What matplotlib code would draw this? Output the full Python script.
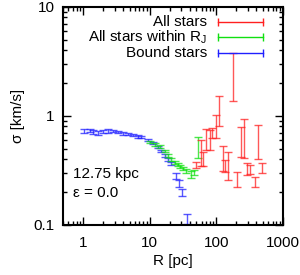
import matplotlib
matplotlib.use('Agg')
import matplotlib.pyplot as plt
from matplotlib.ticker import NullFormatter, LogLocator

plt.rcParams['font.family'] = ['Liberation Sans', 'DejaVu Sans']

# Bound stars (blue)
r_bound = [1.03, 1.27, 1.42, 1.69, 2.01, 2.39, 2.83, 3.36, 4.0, 4.74, 5.63, 6.68,
           7.52, 9.34, 11.1, 13.2, 14.9, 16.7, 18.6, 21.1, 25.0, 28.0, 30.8, 36.0]
s_bound = [0.726, 0.736, 0.71, 0.695, 0.721, 0.726, 0.726, 0.71, 0.695, 0.68, 0.663, 0.648,
           0.639, 0.596, 0.563, 0.517, 0.476, 0.434, 0.399, 0.364, 0.284, 0.240, 0.200, 0.115]
e_bound = [0.03, 0.025, 0.03, 0.025, 0.025, 0.025, 0.02, 0.02, 0.02, 0.015, 0.015, 0.015,
           0.015, 0.012, 0.012, 0.012, 0.012, 0.01, 0.01, 0.01, 0.018, 0.016, 0.014, 0.012]

# All stars within R_J (green)
r_within = [10.0, 11.87, 14.1, 16.7, 18.8, 21.1, 23.6, 26.2, 29.0, 32.2, 35.7, 41.9, 46.9, 52.6]
s_within = [0.577, 0.548, 0.525, 0.476, 0.434, 0.397, 0.371, 0.359, 0.344, 0.330, 0.310, 0.291, 0.303, 0.525]
e_within = [0.015, 0.015, 0.015, 0.014, 0.013, 0.012, 0.012, 0.012, 0.012, 0.013, 0.013, 0.02, 0.015, 0.11]

# All stars (red)
r_all = [50.3, 59.1, 64.0, 70.2, 79.9, 87.1, 99.0, 110.9, 124.2, 136.2,
         151.1, 179.4, 203.7, 233.7, 261.8, 293.2, 321.6, 378.0, 427.6, 490.8]
s_all = [0.352, 0.47, 0.403, 0.617, 0.61, 0.70, 0.83, 1.16, 0.42, 0.347,
         0.36, 2.55, 0.262, 0.60, 0.68, 0.326, 0.321, 0.249, 0.62, 0.332]
e_all = [0.022, 0.126, 0.059, 0.135, 0.127, 0.067, 0.2, 0.35, 0.105, 0.044,
         0.103, 1.19, 0.041, 0.184, 0.266, 0.041, 0.03, 0.024, 0.214, 0.035]

series = [('All stars', r_all, s_all, e_all, '#ff2020'),
          ('All stars within R$_\\mathregular{J}$', r_within, s_within, e_within, '#10e010'),
          ('Bound stars', r_bound, s_bound, e_bound, '#2020ff')]

fig = plt.figure(figsize=(3.0, 2.75), dpi=100)
ax = fig.add_axes([0.21, 0.182, 0.733, 0.793])

for label, r, s, e, c in series[::-1]:
    ax.errorbar(r, s, yerr=e, fmt='none', ecolor=c, elinewidth=1.0, capsize=2.8,
                capthick=1.0, alpha=0.75)

ax.set_xscale('log')
ax.set_yscale('log')
ax.set_xlim(0.5, 1000)
ax.set_ylim(0.1, 10)
ax.set_xticks([1, 10, 100, 1000])
ax.set_xticklabels(['1', '10', '100', '1000'])
ax.set_yticks([0.1, 1, 10])
ax.set_yticklabels(['0.1', '1', '10'])
ax.xaxis.set_minor_locator(LogLocator(base=10, subs=range(2, 10)))
ax.yaxis.set_minor_locator(LogLocator(base=10, subs=range(2, 10)))
ax.xaxis.set_minor_formatter(NullFormatter())
ax.yaxis.set_minor_formatter(NullFormatter())
ax.tick_params(which='both', direction='in', top=True, right=True, width=1.0)
ax.tick_params(which='major', length=6, labelsize=11)
ax.tick_params(axis='x', which='major', pad=8)
ax.tick_params(axis='y', which='major', pad=6)
ax.tick_params(which='minor', length=3)
for sp in ax.spines.values():
    sp.set_linewidth(1.5)

ax.set_xlabel('R [pc]', fontsize=11, labelpad=3)
ax.set_ylabel('σ [km/s]', fontsize=11, labelpad=6)

# gnuplot-style key
rows = [0.931, 0.861, 0.790]
for (label, r, s, e, c), yk in zip(series, rows):
    ax.text(0.655, yk, label, transform=ax.transAxes, ha='right', va='center', fontsize=11)
    ax.plot([0.705, 0.909], [yk, yk], color=c, lw=1.0, transform=ax.transAxes)
    ax.plot([0.705, 0.909], [yk, yk], color=c, lw=0, marker='|', markersize=6,
            markeredgewidth=1.0, transform=ax.transAxes)

ax.text(0.045, 0.233, '12.75 kpc', transform=ax.transAxes, ha='left', va='center', fontsize=11)
ax.text(0.045, 0.145, 'ε = 0.0', transform=ax.transAxes, ha='left', va='center', fontsize=11)

fig.savefig('out.png', dpi=100)
